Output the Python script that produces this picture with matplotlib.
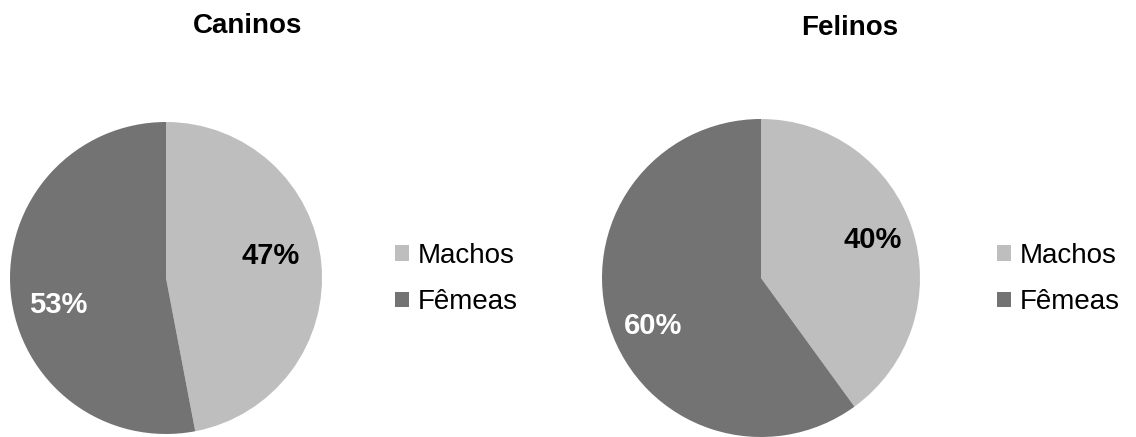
import matplotlib.pyplot as plt

plt.rcParams['font.family'] = ['Liberation Sans', 'DejaVu Sans']

# ---------------- DATA ----------------
labels = ['Machos', 'Fêmeas']
caninos = [47, 53]
felinos = [40, 60]
colors = ['#bebebe', '#737373']
pct_colors = ['black', 'white']
# where Excel put the percentage labels (fraction of radius)
caninos_pct_pos = [(0.67, 0.14), (-0.69, -0.17)]
felinos_pct_pos = [(0.70, 0.24), (-0.68, -0.30)]

W, H = 1136, 437
fig = plt.figure(figsize=(W / 100, H / 100), dpi=100)


def px_axes(x0, y0, x1, y1):
    # pixel box (top-left origin) -> figure axes
    return fig.add_axes([x0 / W, 1 - y1 / H, (x1 - x0) / W, (y1 - y0) / H])


def draw_pie(ax, values, pct_pos):
    wedges, _, autotexts = ax.pie(values, colors=colors, startangle=90,
                                  counterclock=False, autopct='%1.0f%%',
                                  wedgeprops={'linewidth': 0})
    for t, c, p in zip(autotexts, pct_colors, pct_pos):
        t.set_color(c)
        t.set_fontsize(21)
        t.set_fontweight('bold')
        t.set_position(p)
    ax.set_xlim(-1, 1)
    ax.set_ylim(-1, 1)
    return wedges


ax1 = px_axes(10, 122, 322, 434)
w1 = draw_pie(ax1, caninos, caninos_pct_pos)
ax2 = px_axes(602, 119, 920, 437)
w2 = draw_pie(ax2, felinos, felinos_pct_pos)

fig.text(248 / W, 1 - 26 / H, 'Caninos', ha='center', va='center',
         fontsize=20, fontweight='bold')
fig.text(850 / W, 1 - 28 / H, 'Felinos', ha='center', va='center',
         fontsize=20, fontweight='bold')

for wedges, x in [(w1, 384), (w2, 986)]:
    fig.legend(wedges, labels, loc='center left',
               bbox_to_anchor=(x / W, 1 - 279 / H), frameon=False,
               fontsize=20, handlelength=0.5, handleheight=0.5,
               handletextpad=0.32, labelspacing=0.75, borderaxespad=0)

fig.savefig('out.png', dpi=100, facecolor='white')
